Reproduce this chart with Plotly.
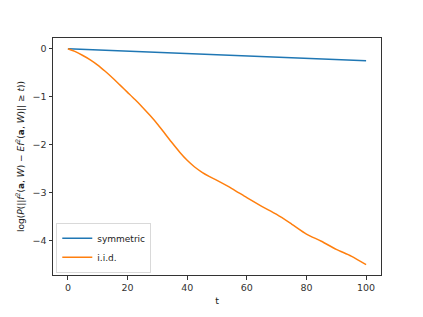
import plotly.graph_objects as go

t_sym = [0, 10, 20, 30, 40, 50, 60, 70, 80, 90, 100]
symmetric = [0.0, -0.025, -0.05, -0.075, -0.10, -0.125, -0.15, -0.175, -0.20, -0.225, -0.25]

t_iid = [0, 2.5, 5, 7.5, 10, 12.5, 15, 17.5, 20, 22.5, 25, 27.5, 30, 32.5, 35, 37.5,
         40, 42.5, 45, 47.5, 50, 55, 60, 65, 70, 75, 80, 85, 90, 95, 100]
iid = [0.0, -0.06, -0.14, -0.23, -0.34, -0.47, -0.61, -0.76, -0.91, -1.06, -1.22, -1.39,
       -1.57, -1.77, -1.97, -2.16, -2.33, -2.47, -2.58, -2.67, -2.75, -2.92,
       -3.11, -3.29, -3.46, -3.66, -3.87, -4.02, -4.19, -4.33, -4.51]

xticks = [0, 20, 40, 60, 80, 100]
yticks = [0, -1, -2, -3, -4]

fig = go.Figure()
fig.add_trace(go.Scatter(x=t_sym, y=symmetric, mode="lines", name="symmetric",
                         line=dict(color="#1f77b4", width=1.5)))
fig.add_trace(go.Scatter(x=t_iid, y=iid, mode="lines", name="i.i.d.",
                         line=dict(color="#ff7f0e", width=1.5, shape="spline", smoothing=0.8)))

axis_common = dict(showgrid=False, zeroline=False, showline=True, linecolor="#333333",
                   linewidth=1, mirror=True, ticks="outside", ticklen=3.5, tickwidth=1,
                   tickcolor="#333333", tickfont=dict(family="DejaVu Sans", size=9.5, color="#333333"))

fig.update_layout(
    width=423, height=317,
    margin=dict(l=53, r=42, t=38, b=34),
    paper_bgcolor="white", plot_bgcolor="white",
    font=dict(family="DejaVu Sans", size=9.5, color="#222222"),
    xaxis=dict(range=[-5, 105], tickvals=xticks, title=dict(text="t", standoff=5,
               font=dict(size=9.5)), **axis_common),
    yaxis=dict(range=[-4.725, 0.225], tickvals=yticks,
               ticktext=[("\u2212" + str(-v)) if v < 0 else str(v) for v in yticks],
               title=dict(text="log(<i>P</i>(||<i>f</i><sup>2</sup>(<b>a</b>, <i>W</i>) \u2212 <i>Ef</i><sup>2</sup>(<b>a</b>, <i>W</i>)|| \u2265 <i>t</i>))",
                          standoff=6, font=dict(size=9)), **axis_common),
    legend=dict(x=0.01, y=0.01, xanchor="left", yanchor="bottom",
                bgcolor="rgba(255,255,255,0.8)", bordercolor="#d9d9d9", borderwidth=1,
                font=dict(size=9, color="#222222"), tracegroupgap=0,
                itemwidth=30, entrywidthmode="pixels"),
    showlegend=True,
)

fig.write_html("out.html")
